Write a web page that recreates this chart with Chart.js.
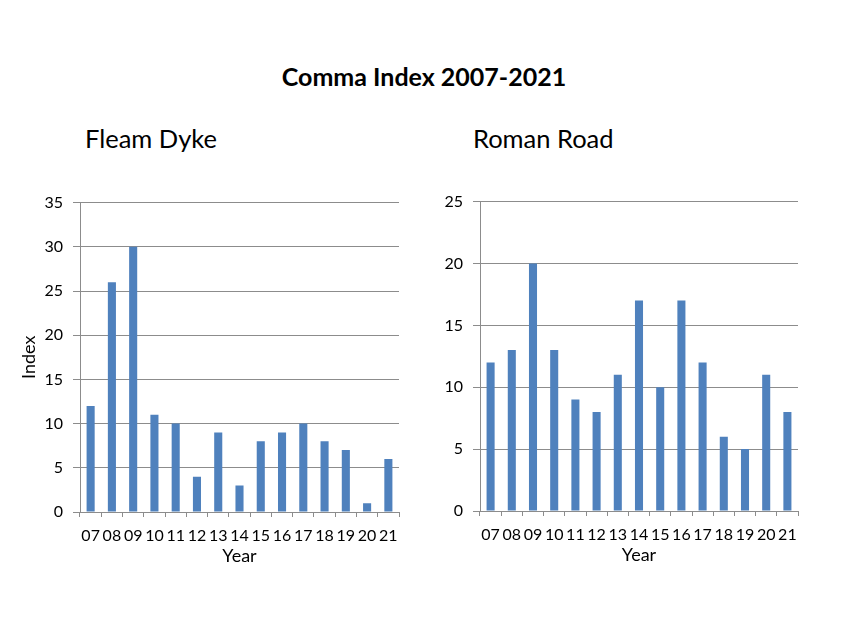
<!DOCTYPE html>
<html>
<head>
<meta charset="utf-8">
<script src="https://cdn.jsdelivr.net/npm/chart.js@4"></script>
<style>
  html, body { margin:0; padding:0; background:#fff; }
  body { width:848px; height:636px; position:relative; overflow:hidden; font-family: Lato, "Open Sans", sans-serif; }
  #title { position:absolute; left:0; width:848px; top:61px; text-align:center; font-weight:bold; font-size:25px; color:#000; }
  .sub { position:absolute; top:123px; font-size:25.5px; color:#000; }
  .wrap { position:absolute; width:420px; height:390px; }
</style>
</head>
<body>
<div id="title">Comma Index 2007-2021</div>
<div class="sub" style="left:85px">Fleam Dyke</div>
<div class="sub" style="left:473px">Roman Road</div>
<div class="wrap" style="left:0; top:183px"><canvas id="c1" width="420" height="390"></canvas></div>
<div class="wrap" style="left:420px; top:182px"><canvas id="c2" width="420" height="390"></canvas></div>
<script>
const years = ["07","08","09","10","11","12","13","14","15","16","17","18","19","20","21"];
const fleamDyke = [12,26,30,11,10,4,9,3,8,9,10,8,7,1,6];
const romanRoad = [12,13,20,13,9,8,11,17,10,17,12,6,5,11,8];
const fleamTicks = {max:35, step:5};
const romanTicks = {max:25, step:5};

const BAR = '#4F81BD';
const GRID = '#8c8c8c';
const FONT = 'Lato, "Open Sans", sans-serif';

function makeChart(id, values, tk, yTitle, yWidth, xHeight, padTop, padRight) {
  return new Chart(document.getElementById(id), {
    type: 'bar',
    data: { labels: years, datasets: [{ data: values, backgroundColor: BAR, borderWidth: 0,
      categoryPercentage: 1.0, barPercentage: 0.38 }] },
    options: {
      responsive: false, animation: false,
      layout: { padding: { top: padTop, right: padRight, left: 0, bottom: 0 } },
      plugins: { legend: { display: false }, tooltip: { enabled: false }, title: { display: false } },
      scales: {
        x: {
          grid: { drawOnChartArea: false, drawTicks: true, tickLength: 5, color: GRID, offset: true },
          border: { display: true, color: GRID, width: 1 },
          ticks: { color: '#000', font: { family: FONT, size: 16 }, maxRotation: 0, autoSkip: false, padding: 9 },
          title: { display: true, text: 'Year', color: '#000', font: { family: FONT, size: 18 }, padding: { top: 0, bottom: 6 } },
          afterFit: s => { s.height = xHeight; }
        },
        y: {
          min: 0, max: tk.max,
          grid: { color: GRID, drawTicks: true, tickLength: 7 },
          border: { display: true, color: GRID, width: 1 },
          ticks: { stepSize: tk.step, color: '#000', font: { family: FONT, size: 16 }, padding: 10 },
          title: { display: !!yTitle, text: yTitle, color: '#000', font: { family: FONT, size: 18 }, padding: { top: 18, bottom: 2 } },
          afterFit: s => { s.width = yWidth; }
        }
      }
    }
  });
}
makeChart('c1', fleamDyke, fleamTicks, 'Index', 80, 61, 0, 21);
makeChart('c2', romanRoad, romanTicks, '', 60, 61, 0, 42);
</script>
</body>
</html>
